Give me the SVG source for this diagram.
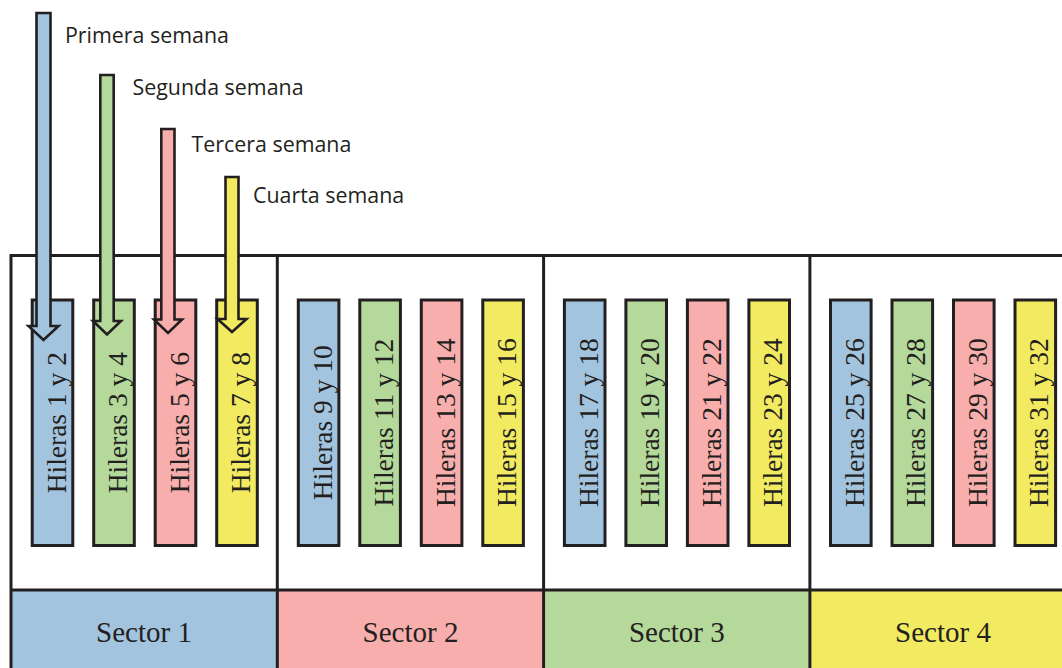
<svg xmlns="http://www.w3.org/2000/svg" width="1062" height="668" viewBox="0 0 1062 668">
<style>
.ln{stroke:#231F20;stroke-width:3;fill:none}
.col{stroke:#231F20;stroke-width:3}
.arr{stroke:#231F20;stroke-width:2.6;stroke-linejoin:miter}
.b{fill:#A3C4DF}.g{fill:#B4D99B}.p{fill:#F7AEAD}.y{fill:#F2EA60}
.ct{font-family:"Liberation Serif","Times New Roman",serif;font-size:27.5px;fill:#231F20;text-anchor:middle}
.st{font-family:"Liberation Serif","Times New Roman",serif;font-size:29px;fill:#231F20;text-anchor:middle}
.wt{font-family:"Open Sans","Noto Sans",sans-serif;font-size:21.4px;fill:#231F20}
</style>
<rect width="1062" height="668" fill="#fff"/>
<g id="sectors">
<rect class="b" x="11" y="590" width="266.3" height="78"/>
<rect class="p" x="277.3" y="590" width="266.3" height="78"/>
<rect class="g" x="543.6" y="590" width="266.3" height="78"/>
<rect class="y" x="809.9" y="590" width="252.1" height="78"/>
<text class="st" x="144" y="642">Sector 1</text>
<text class="st" x="410.5" y="642">Sector 2</text>
<text class="st" x="676.8" y="642">Sector 3</text>
<text class="st" x="943" y="642">Sector 4</text>
</g>
<g id="frame">
<path class="ln" d="M11 668V255.5H1062M277.3 255.5V668M543.6 255.5V668M809.9 255.5V668M11 590H1062"/>
</g>
<g id="rows">
<g id="s1">
<rect class="col b" x="32.2" y="300" width="40.6" height="245.5"/><text class="ct" transform="translate(65.5,422.7) rotate(-90)">Hileras 1 y 2</text>
<rect class="col g" x="93.7" y="300" width="40.6" height="245.5"/><text class="ct" transform="translate(127,422.7) rotate(-90)">Hileras 3 y 4</text>
<rect class="col p" x="155.2" y="300" width="40.6" height="245.5"/><text class="ct" transform="translate(188.5,422.7) rotate(-90)">Hileras 5 y 6</text>
<rect class="col y" x="216.7" y="300" width="40.6" height="245.5"/><text class="ct" transform="translate(250,422.7) rotate(-90)">Hileras 7 y 8</text>
</g>
<g id="s2">
<rect class="col b" x="298.3" y="300" width="40.6" height="245.5"/><text class="ct" transform="translate(331.6,422.7) rotate(-90)">Hileras 9 y 10</text>
<rect class="col g" x="359.8" y="300" width="40.6" height="245.5"/><text class="ct" transform="translate(393.1,422.7) rotate(-90)">Hileras 11 y 12</text>
<rect class="col p" x="421.3" y="300" width="40.6" height="245.5"/><text class="ct" transform="translate(454.6,422.7) rotate(-90)">Hileras 13 y 14</text>
<rect class="col y" x="482.8" y="300" width="40.6" height="245.5"/><text class="ct" transform="translate(516.1,422.7) rotate(-90)">Hileras 15 y 16</text>
</g>
<g id="s3">
<rect class="col b" x="564.4" y="300" width="40.6" height="245.5"/><text class="ct" transform="translate(597.7,422.7) rotate(-90)">Hileras 17 y 18</text>
<rect class="col g" x="625.9" y="300" width="40.6" height="245.5"/><text class="ct" transform="translate(659.2,422.7) rotate(-90)">Hileras 19 y 20</text>
<rect class="col p" x="687.4" y="300" width="40.6" height="245.5"/><text class="ct" transform="translate(720.7,422.7) rotate(-90)">Hileras 21 y 22</text>
<rect class="col y" x="748.9" y="300" width="40.6" height="245.5"/><text class="ct" transform="translate(782.2,422.7) rotate(-90)">Hileras 23 y 24</text>
</g>
<g id="s4">
<rect class="col b" x="830.5" y="300" width="40.6" height="245.5"/><text class="ct" transform="translate(863.8,422.7) rotate(-90)">Hileras 25 y 26</text>
<rect class="col g" x="892" y="300" width="40.6" height="245.5"/><text class="ct" transform="translate(925.3,422.7) rotate(-90)">Hileras 27 y 28</text>
<rect class="col p" x="953.5" y="300" width="40.6" height="245.5"/><text class="ct" transform="translate(986.8,422.7) rotate(-90)">Hileras 29 y 30</text>
<rect class="col y" x="1015" y="300" width="40.6" height="245.5"/><text class="ct" transform="translate(1048.3,422.7) rotate(-90)">Hileras 31 y 32</text>
</g>
</g>
<g id="connectors">
<polygon class="arr b" points="36.5,13 50.5,13 50.5,326 58.5,326 43.5,340 28.5,326 36.5,326"/>
<polygon class="arr g" points="100.3,75 113.7,75 113.7,321 121,321 107,334.5 93,321 100.3,321"/>
<polygon class="arr p" points="161.3,129 174.5,129 174.5,319.5 182,319.5 168,333 154,319.5 161.3,319.5"/>
<polygon class="arr y" points="225.5,177 238.5,177 238.5,319 246.5,319 232,332 217.5,319 225.5,319"/>
</g>
<g id="labels">
<text class="wt" x="65" y="42.5">Primera semana</text>
<text class="wt" x="132.5" y="95">Segunda semana</text>
<text class="wt" x="191.5" y="151.5">Tercera semana</text>
<text class="wt" x="253" y="203">Cuarta semana</text>
</g>
</svg>
